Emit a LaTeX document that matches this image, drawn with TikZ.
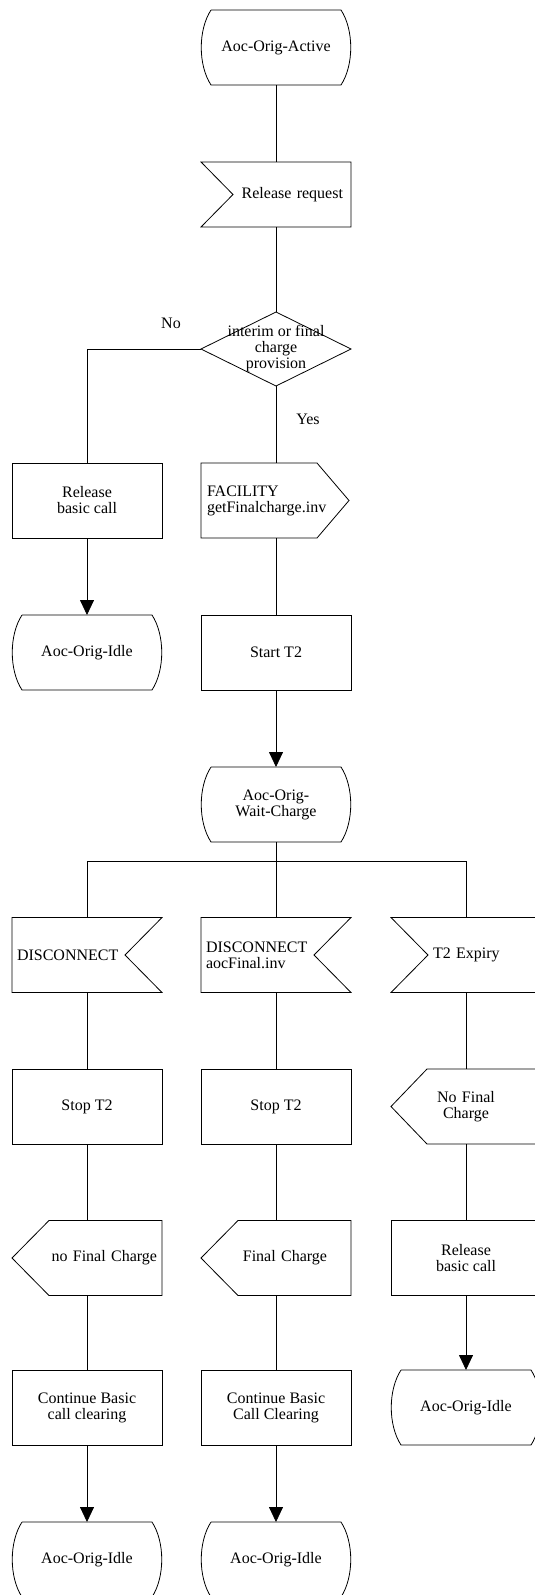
\documentclass[tikz,border=0pt]{standalone}
\usepackage{fontspec}
\setmainfont{Liberation Serif}
\usetikzlibrary{arrows.meta,calc}
\newcommand{\sdlfont}{\fontsize{16}{16}\selectfont}
\newcommand{\drawline}{\draw[line width=0.8pt]}
\newcommand{\drawarrow}{\draw[line width=0.8pt,-{Triangle[length=15pt,width=14pt]}]}
\tikzset{
  shapetext/.style={minimum width=150, minimum height=75, inner sep=0, outer sep=0},
  statetext/.style={shapetext, minimum width=130, align=center},
  taskbox/.style={shapetext, draw, line width=0.8pt, align=center},
}
% state: straight top and bottom, bulging sides
\newcommand{\drawstate}[3]{
  \node[statetext] (#1) at (#2) {#3};
  \drawline (#1.north west) -- (#1.north east) .. controls +(13,20) and +(13,-20) .. (#1.south east)
    -- (#1.south west) .. controls +(-13,-20) and +(-13,20) .. (#1.north west);
}
% input signals: notch on the left or on the right
\newcommand{\drawinleft}[5]{
  \node[shapetext,#4] (#1) at (#2) {#5};
  \drawline (#1.north west) -- (#1.north east) -- (#1.south east) -- (#1.south west) -- ([xshift=#3]#1.west) -- cycle;
}
\newcommand{\drawinright}[5]{
  \node[shapetext,#4] (#1) at (#2) {#5};
  \drawline (#1.north west) -- (#1.north east) -- ([xshift=-#3]#1.east) -- (#1.south east) -- (#1.south west) -- cycle;
}
% output signals: point on the left or on the right
\newcommand{\drawoutleft}[5]{
  \node[shapetext,#4] (#1) at (#2) {#5};
  \drawline (#1.west) -- ([xshift=#3]#1.north west) -- (#1.north east) -- (#1.south east) -- ([xshift=#3]#1.south west) -- cycle;
}
\newcommand{\drawoutright}[5]{
  \node[shapetext,#4] (#1) at (#2) {#5};
  \drawline (#1.north west) -- ([xshift=-#3]#1.north east) -- (#1.east) -- ([xshift=-#3]#1.south east) -- (#1.south west) -- cycle;
}
\begin{document}
\begin{tikzpicture}[x=1pt,y=-1pt,font=\sdlfont]
\useasboundingbox (0,0) rectangle (535,1595);
\drawstate{act}{276,47.5}{Aoc-Orig-Active}
\drawinleft{rr}{276,194.5}{32}{minimum height=65, text width=134, align=right}{Release request}
\node[shapetext, minimum height=74, align=center] (dec) at (276,349) {interim or final\\charge\\provision};
\drawline (dec.north) -- (dec.east) -- (dec.south) -- (dec.west) -- cycle;
\node (no) at (171,323) {No};
\node (yes) at (308,419) {Yes};
\node[taskbox] (rel1) at (87,500.5) {Release\\basic call};
\drawoutright{fac}{275,500.5}{32}{minimum width=148, text width=136, align=left}{FACILITY\\getFinalcharge.inv}
\drawstate{idle1}{87,652.5}{Aoc-Orig-Idle}
\node[taskbox] (st2) at (276,652.5) {Start T2};
\drawstate{wait}{276,804.5}{Aoc-Orig-\\Wait-Charge}
\drawinright{dis1}{87,955}{37}{text width=140, align=left}{DISCONNECT}
\drawinright{dis2}{276,955}{37}{text width=140, align=left}{DISCONNECT\\aocFinal.inv}
\drawinleft{t2x}{466,955}{37}{text width=66, align=left}{\mbox{T2 Expiry}}
\node[taskbox] (stp1) at (87,1106.5) {Stop T2};
\node[taskbox] (stp2) at (276,1106.5) {Stop T2};
\drawoutleft{nfc}{466,1106.5}{36}{text width=66, align=center}{No Final\\Charge}
\drawoutleft{nfc1}{87,1258}{37}{text width=140, align=right}{no Final Charge}
\drawoutleft{fc2}{276,1258}{37}{text width=102, align=right}{Final Charge}
\node[taskbox] (rel3) at (466,1258) {Release\\basic call};
\node[taskbox] (cont1) at (87,1408) {Continue Basic\\call clearing};
\node[taskbox] (cont2) at (276,1408) {Continue Basic\\Call Clearing};
\drawstate{idle3}{466,1407.5}{Aoc-Orig-Idle}
\drawstate{idle1b}{87,1559.5}{Aoc-Orig-Idle}
\drawstate{idle2b}{276,1559.5}{Aoc-Orig-Idle}
% connectors
\drawline (act.south) -- (rr.north);
\drawline (rr.south) -- (dec.north);
\drawline (dec.west) -| (rel1.north);
\drawline (dec.south) -- (dec.south |- fac.north);
\drawarrow (rel1.south) -- (idle1.north);
\drawline (fac.south -| st2.north) -- (st2.north);
\drawarrow (st2.south) -- (wait.north);
\coordinate (jn) at ($(wait.south)+(0,19)$);
\drawline (wait.south) -- (dis2.north);
\drawline (dis1.north) |- (jn) -| (t2x.north);
\drawline (dis1.south) -- (stp1.north);
\drawline (stp1.south) -- (nfc1.north);
\drawline (nfc1.south) -- (cont1.north);
\drawarrow (cont1.south) -- (idle1b.north);
\drawline (dis2.south) -- (stp2.north);
\drawline (stp2.south) -- (fc2.north);
\drawline (fc2.south) -- (cont2.north);
\drawarrow (cont2.south) -- (idle2b.north);
\drawline (t2x.south) -- (nfc.north);
\drawline (nfc.south) -- (rel3.north);
\drawarrow (rel3.south) -- (idle3.north);
\end{tikzpicture}
\end{document}
